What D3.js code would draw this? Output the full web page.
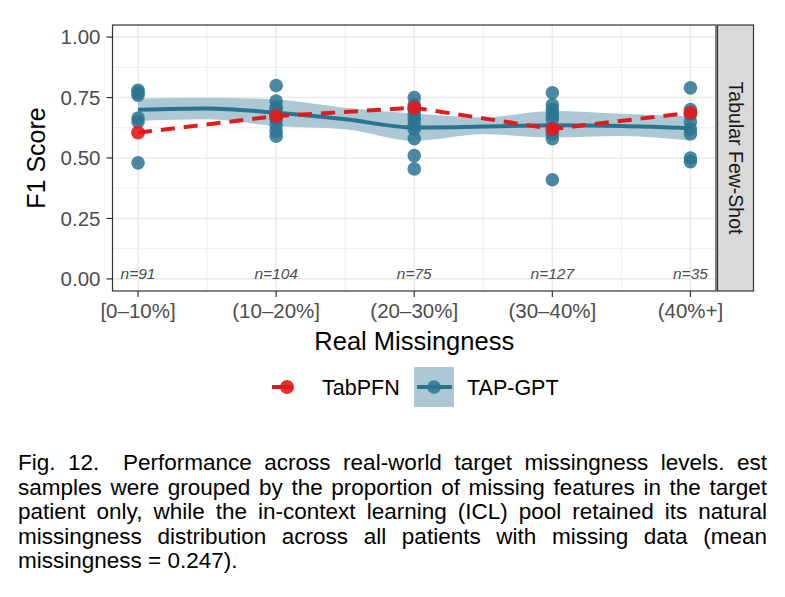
<!DOCTYPE html>
<html>
<head>
<meta charset="utf-8">
<title>F1 by real missingness</title>
<script src="https://d3js.org/d3.v7.min.js"></script>
<style>
  body { margin:0; background:#fff; }
  text { font-family:"Liberation Sans", Arial, Helvetica, sans-serif; }
</style>
</head>
<body>
<script>
// categories and counts
var categories = ["[0\u201310%]", "(10\u201320%]", "(20\u201330%]", "(30\u201340%]", "(40%+]"];
var counts = [91, 104, 75, 127, 35];

// TAP-GPT per-run scores at each level
var tapPoints = [
  [0.78, 0.77, 0.76, 0.665, 0.65, 0.48],
  [0.80, 0.735, 0.71, 0.70, 0.68, 0.66, 0.635, 0.61, 0.59],
  [0.75, 0.72, 0.70, 0.68, 0.66, 0.64, 0.62, 0.58, 0.51, 0.455],
  [0.77, 0.72, 0.70, 0.68, 0.66, 0.60, 0.58, 0.41],
  [0.79, 0.70, 0.68, 0.65, 0.62, 0.60, 0.50, 0.485]
];
// TabPFN mean per level
var tabpfn = [0.605, 0.673, 0.708, 0.62, 0.687];

// loess fit for TAP-GPT (read at each level and halfway between)
var fitPos   = [0, 0.5, 1, 1.5, 2, 2.5, 3, 3.5, 4];
var fitMid   = [0.700, 0.705, 0.687, 0.660, 0.626, 0.630, 0.635, 0.632, 0.623];
var fitUpper = [0.746, 0.749, 0.742, 0.708, 0.684, 0.668, 0.694, 0.683, 0.673];
var fitLower = [0.653, 0.660, 0.632, 0.619, 0.571, 0.598, 0.585, 0.591, 0.571];

var yTicks = [0, 0.25, 0.5, 0.75, 1];

var W = 785, H = 597;
var panel = {left:112.5, right:716, top:25, bottom:291};
var red = "#e31a1c", teal = "#2a7491", ribbon = "#abc8d4";

var svg = d3.select("body").append("svg").attr("width", W).attr("height", H);

var x = d3.scaleLinear().domain([-0.185, 4.185]).range([panel.left, panel.right]);
var y = d3.scaleLinear().domain([-0.05, 1.05]).range([panel.bottom, panel.top]);

// grid
var grid = svg.append("g");
d3.range(-0.125, 1.126, 0.125).forEach(function(v) {
  var major = Math.abs(v * 4 - Math.round(v * 4)) < 1e-6;
  if (y(v) < panel.top || y(v) > panel.bottom) return;
  grid.append("line").attr("x1", panel.left).attr("x2", panel.right)
    .attr("y1", y(v)).attr("y2", y(v))
    .attr("stroke", "#ebebeb").attr("stroke-width", major ? 1.6 : 0.9);
});
[0.5, 1.5, 2.5, 3.5].forEach(function(v) {
  grid.append("line").attr("y1", panel.top).attr("y2", panel.bottom)
    .attr("x1", x(v)).attr("x2", x(v)).attr("stroke", "#ebebeb").attr("stroke-width", 0.9);
});
categories.forEach(function(c, i) {
  grid.append("line").attr("y1", panel.top).attr("y2", panel.bottom)
    .attr("x1", x(i)).attr("x2", x(i)).attr("stroke", "#ebebeb").attr("stroke-width", 1.6);
});

// ribbon + fit line
var fit = fitPos.map(function(p, i) { return {p:p, m:fitMid[i], lo:fitLower[i], hi:fitUpper[i]}; });
svg.append("path").datum(fit)
  .attr("d", d3.area().curve(d3.curveMonotoneX)
    .x(function(d){ return x(d.p); }).y0(function(d){ return y(d.lo); }).y1(function(d){ return y(d.hi); }))
  .attr("fill", ribbon);
svg.append("path").datum(fit)
  .attr("d", d3.line().curve(d3.curveMonotoneX)
    .x(function(d){ return x(d.p); }).y(function(d){ return y(d.m); }))
  .attr("fill", "none").attr("stroke", teal).attr("stroke-width", 4);

// TAP-GPT points
var pts = [];
tapPoints.forEach(function(arr, i) { arr.forEach(function(v) { pts.push({i:i, v:v}); }); });
svg.append("g").selectAll("circle").data(pts).enter().append("circle")
  .attr("cx", function(d){ return x(d.i); })
  .attr("cy", function(d){ return y(d.v); })
  .attr("r", 6.8).attr("fill", teal).attr("fill-opacity", 0.85);

// TabPFN dashed line + points
svg.append("path").datum(tabpfn)
  .attr("d", d3.line().x(function(d, i){ return x(i); }).y(function(d){ return y(d); }))
  .attr("fill", "none").attr("stroke", red).attr("stroke-width", 4)
  .attr("stroke-dasharray", "14,9");
svg.append("g").selectAll("circle").data(tabpfn).enter().append("circle")
  .attr("cx", function(d, i){ return x(i); })
  .attr("cy", function(d){ return y(d); })
  .attr("r", 7).attr("fill", red).attr("fill-opacity", 0.9);

// n labels
svg.append("g").selectAll("text").data(counts).enter().append("text")
  .attr("x", function(d, i){ return x(i); })
  .attr("y", 279).attr("text-anchor", "middle")
  .attr("font-size", 15.5).attr("font-style", "italic").attr("fill", "#4d4d4d")
  .text(function(d){ return "n=" + d; });

// panel border
svg.append("rect").attr("x", panel.left).attr("y", panel.top)
  .attr("width", panel.right - panel.left).attr("height", panel.bottom - panel.top)
  .attr("fill", "none").attr("stroke", "#333").attr("stroke-width", 1.2);

// strip
svg.append("rect").attr("x", 717.5).attr("y", panel.top)
  .attr("width", 36).attr("height", panel.bottom - panel.top)
  .attr("fill", "#d9d9d9").attr("stroke", "#333").attr("stroke-width", 1.2);
svg.append("text").attr("transform", "translate(736," + ((panel.top + panel.bottom) / 2) + ") rotate(90)")
  .attr("text-anchor", "middle").attr("dy", "0.35em")
  .attr("font-size", 19.5).attr("fill", "#1a1a1a").text("Tabular Few-Shot");

// y axis
var yAxis = svg.append("g");
yTicks.forEach(function(v) {
  yAxis.append("line").attr("x1", panel.left - 6).attr("x2", panel.left)
    .attr("y1", y(v)).attr("y2", y(v)).attr("stroke", "#333").attr("stroke-width", 1.2);
  yAxis.append("text").attr("x", panel.left - 12).attr("y", y(v)).attr("dy", "0.36em")
    .attr("text-anchor", "end").attr("font-size", 20.5).attr("fill", "#4d4d4d")
    .text(d3.format(".2f")(v));
});
svg.append("text").attr("transform", "translate(45," + ((panel.top + panel.bottom) / 2) + ") rotate(-90)")
  .attr("text-anchor", "middle").attr("font-size", 25).attr("fill", "#000").text("F1 Score");

// x axis
var xAxis = svg.append("g");
categories.forEach(function(c, i) {
  xAxis.append("line").attr("x1", x(i)).attr("x2", x(i))
    .attr("y1", panel.bottom).attr("y2", panel.bottom + 6).attr("stroke", "#333").attr("stroke-width", 1.2);
  xAxis.append("text").attr("x", x(i)).attr("y", 318).attr("text-anchor", "middle")
    .attr("font-size", 20.5).attr("fill", "#4d4d4d").text(c);
});
svg.append("text").attr("x", (panel.left + panel.right) / 2).attr("y", 350)
  .attr("text-anchor", "middle").attr("font-size", 25.5).attr("fill", "#000").text("Real Missingness");

// legend
var lg = svg.append("g");
lg.append("line").attr("x1", 272).attr("x2", 293).attr("y1", 387).attr("y2", 387)
  .attr("stroke", red).attr("stroke-width", 4);
lg.append("circle").attr("cx", 287).attr("cy", 387).attr("r", 7).attr("fill", red).attr("fill-opacity", 0.9);
lg.append("text").attr("x", 322).attr("y", 394.5).attr("font-size", 21.5).text("TabPFN");
lg.append("rect").attr("x", 414).attr("y", 367).attr("width", 40).attr("height", 40).attr("fill", ribbon);
lg.append("line").attr("x1", 417).attr("x2", 452).attr("y1", 387).attr("y2", 387)
  .attr("stroke", teal).attr("stroke-width", 4);
lg.append("circle").attr("cx", 434).attr("cy", 387).attr("r", 6.8).attr("fill", teal).attr("fill-opacity", 0.85);
lg.append("text").attr("x", 467).attr("y", 394.5).attr("font-size", 21.5).text("TAP-GPT");

// caption, justified by hand
var captionLines = [
  "Fig. 12.\u2002 Performance across real-world target missingness levels. est",
  "samples were grouped by the proportion of missing features in the target",
  "patient only, while the in-context learning (ICL) pool retained its natural",
  "missingness distribution across all patients with missing data (mean",
  "missingness = 0.247)."
];
var capLeft = 18, capRight = 767, capSize = 22.5, capTop = 470, capStep = 24.6;
captionLines.forEach(function(line, li) {
  var t = svg.append("text").attr("y", capTop + li * capStep)
    .attr("font-size", capSize).attr("fill", "#000");
  var words = line.split(" ");
  var spans = words.map(function(w) { return t.append("tspan").text(w); });
  var widths = spans.map(function(s) { return s.node().getComputedTextLength(); });
  var total = d3.sum(widths);
  var last = li === captionLines.length - 1;
  var gap = last ? capSize * 0.28 : (capRight - capLeft - total) / (words.length - 1);
  var cx = capLeft;
  spans.forEach(function(s, k) { s.attr("x", cx); cx += widths[k] + gap; });
});
</script>
</body>
</html>
